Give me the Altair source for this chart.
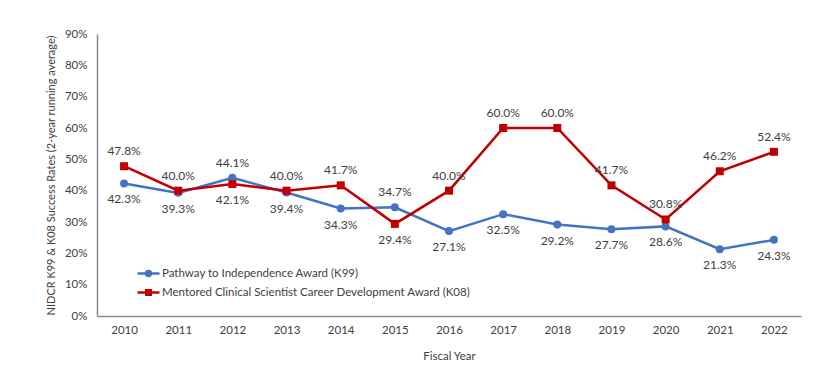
import altair as alt
import pandas as pd

years = [str(y) for y in range(2010, 2023)]
k99 = [42.3, 39.3, 44.1, 39.4, 34.3, 34.7, 27.1, 32.5, 29.2, 27.7, 28.6, 21.3, 24.3]
k08 = [47.8, 40.0, 42.1, 40.0, 41.7, 29.4, 40.0, 60.0, 60.0, 41.7, 30.8, 46.2, 52.4]
series_names = ["Pathway to Independence Award (K99)",
                "Mentored Clinical Scientist Career Development Award (K08)"]
colors = ["#4472C4", "#C00000"]
y_ticks = [0, 0.1, 0.2, 0.3, 0.4, 0.5, 0.6, 0.7, 0.8, 0.9]
y_title = "NIDCR K99 & K08 Success Rates (2-year running average)"

rows = []
for i, yr in enumerate(years):
    a, b = k99[i], k08[i]
    rows.append({"year": yr, "series": series_names[0], "value": a / 100,
                 "pos": "above" if a > b else "below"})
    rows.append({"year": yr, "series": series_names[1], "value": b / 100,
                 "pos": "above" if b >= a else "below"})
df = pd.DataFrame(rows)

FONT = "Lato"
TXT = "#404040"

# legend symbols: line segment with marker
sym_k99 = "M-1.375,0H1.375M0.3,0A0.3,0.3,0,1,1,-0.3,0A0.3,0.3,0,1,1,0.3,0Z"
sym_k08 = "M-1.375,0H1.375M-0.28,-0.28H0.28V0.28H-0.28Z"

leg = alt.Legend(title=None)
stroke_scale = alt.Scale(domain=series_names, range=colors)
fill_scale = alt.Scale(domain=series_names, range=colors)

x = alt.X("year:O", title="Fiscal Year",
          axis=alt.Axis(labelAngle=0, labelPadding=8, titlePadding=15))
y = alt.Y("value:Q", title=y_title,
          scale=alt.Scale(domain=[0, 0.9], nice=False),
          axis=alt.Axis(values=y_ticks, format=".0%", labelPadding=10, titlePadding=8,
                        titleFontSize=11, titleLimit=1000, titleAngle=270,
                        titleAlign="center", titleBaseline="bottom"))

base = alt.Chart(df)

lines = base.mark_line(strokeWidth=2.5).encode(
    x=x, y=y, stroke=alt.Stroke("series:N", scale=stroke_scale, legend=leg))

pts_k99 = base.transform_filter(alt.datum.series == series_names[0]).mark_point(
    shape="circle", filled=True, size=64, opacity=1).encode(
    x=x, y=y, fill=alt.Fill("series:N", scale=fill_scale, legend=leg))

pts_k08 = base.transform_filter(alt.datum.series == series_names[1]).mark_point(
    shape="square", filled=True, size=64, opacity=1).encode(
    x=x, y=y, fill=alt.Fill("series:N", scale=fill_scale, legend=leg))

legend_layer = base.transform_filter("false").mark_point(
    filled=True, strokeWidth=2.5, size=256, opacity=1).encode(
    x=x, y=y,
    fill=alt.Fill("series:N", scale=fill_scale, legend=leg),
    stroke=alt.Stroke("series:N", scale=stroke_scale, legend=leg),
    shape=alt.Shape("series:N", scale=alt.Scale(domain=series_names, range=[sym_k99, sym_k08]),
                    legend=leg))

lab_above = base.transform_filter(alt.datum.pos == "above").mark_text(
    dy=-15, baseline="middle", font=FONT, fontSize=12, color=TXT).encode(
    x=x, y=y, text=alt.Text("value:Q", format=".1%"))

lab_below = base.transform_filter(alt.datum.pos == "below").mark_text(
    dy=16, baseline="middle", font=FONT, fontSize=12, color=TXT).encode(
    x=x, y=y, text=alt.Text("value:Q", format=".1%"))

chart = alt.layer(lines, pts_k99, pts_k08, legend_layer, lab_above, lab_below).properties(
    width=704, height=282,
    padding={"left": 37, "top": 20, "right": 5, "bottom": 5},
).configure_view(stroke=None).configure_axis(
    grid=False, ticks=False, domainColor="#8c8c8c", domainWidth=1.5,
    labelFont=FONT, labelFontSize=11.5, labelColor=TXT,
    titleFont=FONT, titleFontSize=11.5, titleColor=TXT, titleFontWeight="normal",
).configure_legend(
    orient="none", legendX=42, legendY=230, padding=0,
    labelFont=FONT, labelFontSize=11.5, labelColor=TXT, labelLimit=0,
    symbolSize=256, symbolStrokeWidth=2.5, labelOffset=4, rowPadding=2,
)

chart.save("out.html", embed_options={"renderer": "svg", "actions": False})
